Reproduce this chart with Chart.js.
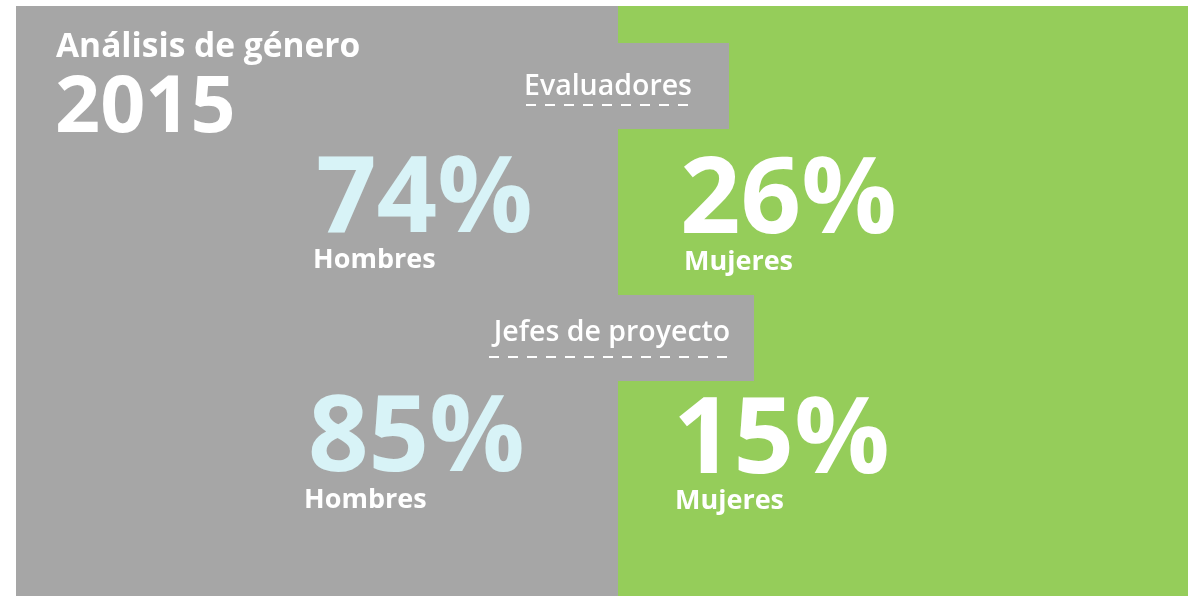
<!DOCTYPE html>
<html><head><meta charset="utf-8">
<script src="https://cdn.jsdelivr.net/npm/chart.js@4.4.1/dist/chart.umd.min.js"></script>
<style>html,body{margin:0;padding:0;background:#fff;overflow:hidden}#wrap{width:1196px;height:596px;position:relative}</style>
</head><body><div id="wrap"><canvas id="c" width="1196" height="596"></canvas></div>
<script>
// ---- data ----
const categories = ['Evaluadores', 'Jefes de proyecto'];
const hombres = [74, 85];
const mujeres = [26, 15];
const seriesLabels = ['Hombres', 'Mujeres'];
const titleText = 'Análisis de género';
const yearText = '2015';

// ---- style / layout ----
const GRAY = '#a6a6a6', GREEN = '#95cd5a', LIGHT = '#d8f3f7', WHITE = '#ffffff';
const FONT = '"Open Sans", "Noto Sans", sans-serif';
const SPLIT_X = 618;
const rowLayout = [
  {tabRight: 729, labelX: 608, labelDy: 52, dashX: 526, dashW: 166, dashDy: 62,
   leftX: 316, rightX: 680, numDy: 189, numDyR: 190, subLX: 313, subRX: 684, subDy: 225, subDyR: 227},
  {tabRight: 754, labelX: 612, labelDy: 46, dashX: 489, dashW: 240, dashDy: 62,
   leftX: 308, rightX: 673, numDy: 176, numDyR: 178, subLX: 304, subRX: 675, subDy: 213, subDyR: 214}
];

const infographic = {
  id: 'infographic',
  beforeDraw(chart) {
    const ctx = chart.ctx;
    const yScale = chart.scales.y;
    ctx.save();
    ctx.fillStyle = '#fff';
    ctx.fillRect(0, 0, chart.width, chart.height);
    ctx.fillStyle = GRAY;
    ctx.fillRect(16, 6, SPLIT_X - 16, 590);
    ctx.fillStyle = GREEN;
    ctx.fillRect(SPLIT_X, 6, 1188 - SPLIT_X, 590);
    chart.data.labels.forEach((lab, i) => {
      const top = yScale.getPixelForValue(i) - yScale.height / 4;
      const L = rowLayout[i];
      ctx.fillStyle = GRAY;
      ctx.fillRect(SPLIT_X - 1, top, L.tabRight - SPLIT_X + 1, 86);
    });
    ctx.restore();
  },
  afterDraw(chart) {
    const ctx = chart.ctx;
    const yScale = chart.scales.y;
    ctx.save();
    ctx.textBaseline = 'alphabetic';
    ctx.textAlign = 'left';
    ctx.fillStyle = WHITE;
    ctx.font = '700 33.5px ' + FONT;
    ctx.fillText(titleText, 56, 57);
    ctx.font = '700 79px ' + FONT;
    ctx.fillText(yearText, 55, 132);
    const h = chart.data.datasets[0].data, m = chart.data.datasets[1].data;
    chart.data.labels.forEach((lab, i) => {
      const top = yScale.getPixelForValue(i) - yScale.height / 4;
      const L = rowLayout[i];
      ctx.fillStyle = WHITE;
      ctx.textAlign = 'center';
      ctx.font = '600 28.5px ' + FONT;
      ctx.fillText(lab, L.labelX, top + L.labelDy);
      ctx.strokeStyle = WHITE;
      ctx.lineWidth = 2;
      ctx.setLineDash([10, 9]);
      ctx.beginPath();
      ctx.moveTo(L.dashX, top + L.dashDy);
      ctx.lineTo(L.dashX + L.dashW, top + L.dashDy);
      ctx.stroke();
      ctx.setLineDash([]);
      ctx.textAlign = 'left';
      ctx.font = '700 106px ' + FONT;
      ctx.fillStyle = LIGHT;
      ctx.fillText(h[i] + '%', L.leftX, top + L.numDy);
      ctx.fillStyle = WHITE;
      ctx.fillText(m[i] + '%', L.rightX, top + L.numDyR);
      ctx.font = '700 27px ' + FONT;
      ctx.fillText(chart.data.datasets[0].label, L.subLX, top + L.subDy);
      ctx.fillText(chart.data.datasets[1].label, L.subRX, top + L.subDyR);
    });
    ctx.restore();
  }
};

new Chart(document.getElementById('c'), {
  type: 'bar',
  data: {
    labels: categories,
    datasets: [
      {label: seriesLabels[0], data: hombres, backgroundColor: 'rgba(0,0,0,0)'},
      {label: seriesLabels[1], data: mujeres, backgroundColor: 'rgba(0,0,0,0)'}
    ]
  },
  options: {
    indexAxis: 'y',
    responsive: false,
    devicePixelRatio: 1,
    animation: false,
    events: [],
    layout: {padding: {top: 43, bottom: 49, left: 0, right: 0}},
    plugins: {legend: {display: false}, tooltip: {enabled: false}},
    scales: {
      x: {display: false, stacked: true, min: 0, max: 100},
      y: {display: false, stacked: true}
    }
  },
  plugins: [infographic]
});
</script></body></html>
